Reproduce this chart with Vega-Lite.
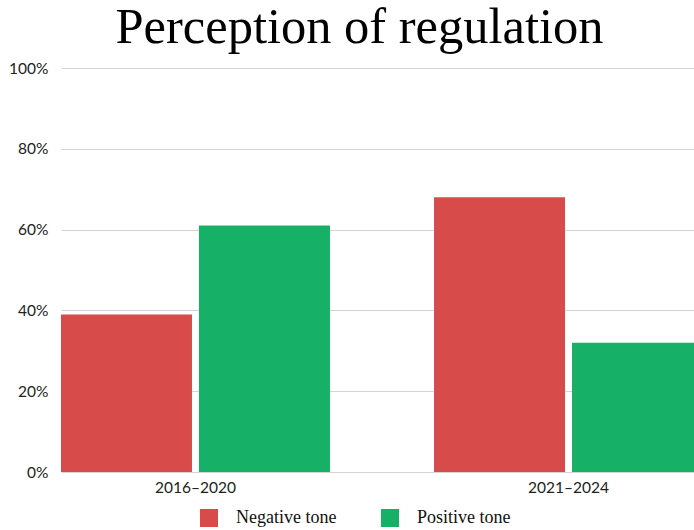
{
  "$schema": "https://vega.github.io/schema/vega-lite/v6.json",
  "width": 633,
  "height": 404,
  "autosize": {"type": "none"},
  "padding": {"left": 61, "top": 68, "right": 0, "bottom": 58},
  "background": "white",
  "title": {
    "text": "Perception of regulation",
    "font": "Liberation Serif",
    "fontSize": 50.5,
    "fontWeight": "normal",
    "color": "#000000",
    "anchor": "middle",
    "dx": -18,
    "baseline": "alphabetic",
    "offset": -32
  },
  "data": {
    "values": [
      {"period": "2016-2020", "tone": "Negative tone", "share": 0.39},
      {"period": "2016-2020", "tone": "Positive tone", "share": 0.61},
      {"period": "2021-2024", "tone": "Negative tone", "share": 0.68},
      {"period": "2021-2024", "tone": "Positive tone", "share": 0.32}
    ]
  },
  "mark": {"type": "bar", "clip": false},
  "encoding": {
    "x": {
      "field": "period",
      "type": "nominal",
      "scale": {"range": [0, 642], "paddingInner": 0.279, "paddingOuter": 0},
      "axis": {
        "title": null,
        "labelAngle": 0,
        "domain": false,
        "ticks": false,
        "labelFont": "Lato",
        "labelFontSize": 15.5,
        "labelColor": "#222222",
        "labelPadding": 8,
        "labelExpr": "replace(datum.label, '-', '–')"
      }
    },
    "xOffset": {
      "field": "tone",
      "type": "nominal",
      "scale": {"paddingInner": 0.0507, "paddingOuter": 0}
    },
    "y": {
      "field": "share",
      "type": "quantitative",
      "scale": {"domain": [0, 1]},
      "axis": {
        "title": null,
        "format": ".0%",
        "values": [0, 0.2, 0.4, 0.6, 0.8, 1],
        "labelOverlap": false,
        "domain": false,
        "ticks": false,
        "labelFont": "Lato",
        "labelFontSize": 15.5,
        "labelColor": "#222222",
        "labelPadding": 13,
        "gridColor": "#d4d4d4",
        "gridWidth": 1
      }
    },
    "color": {
      "field": "tone",
      "type": "nominal",
      "scale": {"domain": ["Negative tone", "Positive tone"], "range": ["#d84b4b", "#17b067"]},
      "legend": {
        "title": null,
        "orient": "none",
        "legendX": 139,
        "legendY": 441,
        "direction": "horizontal",
        "symbolType": "square",
        "symbolSize": 324,
        "symbolStrokeWidth": 0,
        "labelFont": "Liberation Serif, serif",
        "labelFontSize": 18,
        "labelColor": "#111111",
        "labelOffset": 18,
        "columnPadding": 44
      }
    }
  },
  "config": {
    "view": {"stroke": null}
  }
}
